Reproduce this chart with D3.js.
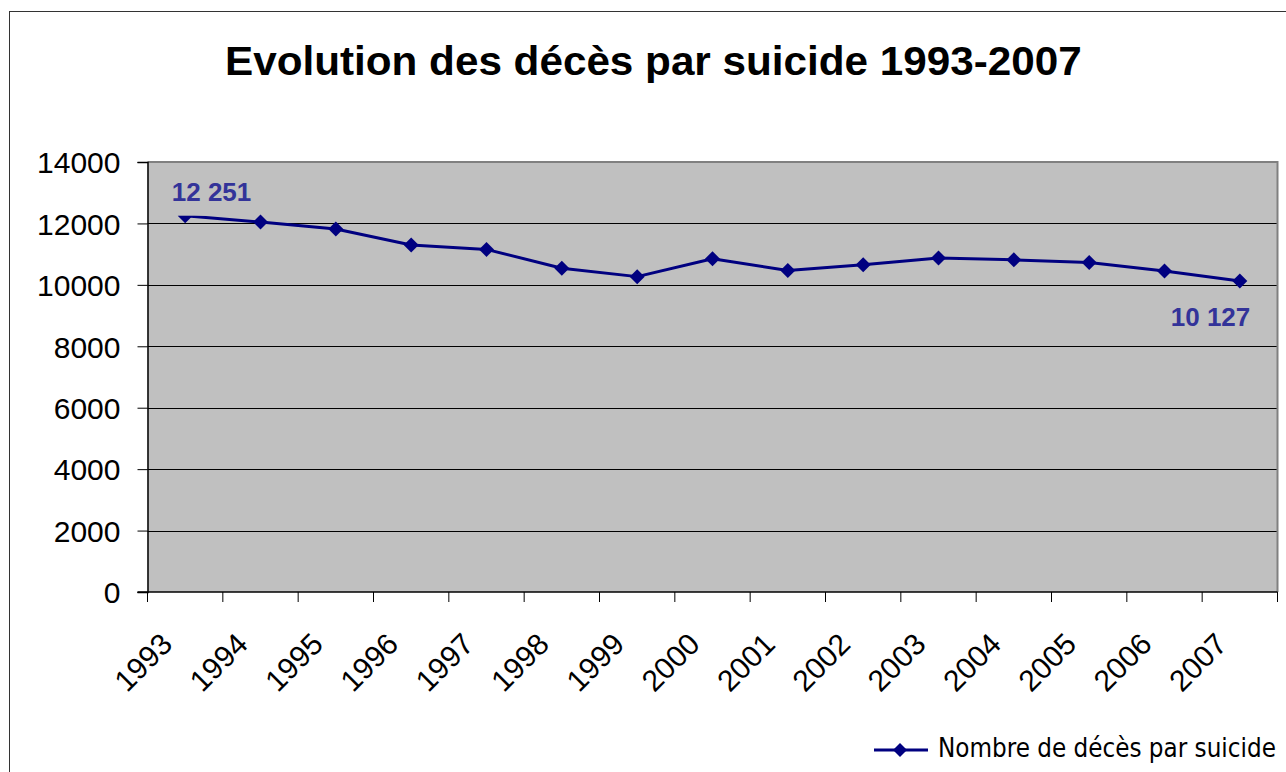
<!DOCTYPE html>
<html>
<head>
<meta charset="utf-8">
<script src="https://cdn.jsdelivr.net/npm/d3@7"></script>
<style>
  html, body { margin: 0; padding: 0; background: #fff; }
  svg { display: block; }
</style>
</head>
<body>
<svg id="chart" width="1286" height="772"></svg>
<script>
const years = ["1993","1994","1995","1996","1997","1998","1999","2000","2001","2002","2003","2004","2005","2006","2007"];
const deaths = [12251, 12045, 11819, 11300, 11155, 10540, 10268, 10850, 10470, 10655, 10874, 10815, 10730, 10450, 10127];
const yTicks = [0, 2000, 4000, 6000, 8000, 10000, 12000, 14000];
const titleText = "Evolution des décès par suicide 1993-2007";
const legendText = "Nombre de décès par suicide";
const labelFirst = "12 251";
const labelLast = "10 127";

const svg = d3.select("#chart");
const W = 1286, H = 772;
const plot = {left: 147.5, right: 1277.5, top: 162, bottom: 592};
const FONT = "Liberation Sans, Arial, sans-serif";

// outer border
svg.append("rect").attr("x", 9.5).attr("y", 11.5).attr("width", W + 10).attr("height", H + 10)
  .attr("fill", "#fff").attr("stroke", "#333").attr("stroke-width", 1);

// helper: horizontally fit a text to a width with a scale transform
function fitText(sel, x0, y0, width) {
  const natural = sel.node().getComputedTextLength();
  const sx = width / natural;
  sel.attr("transform", `translate(${x0},${y0}) scale(${sx},1)`);
}

// title
const title = svg.append("text").attr("x", 0).attr("y", 0)
  .attr("font-family", FONT).attr("font-weight", "bold")
  .attr("font-size", 40).attr("fill", "#000").text(titleText);
fitText(title, 225, 75, 857);

const x = d3.scaleBand().domain(years).range([plot.left, plot.right]).paddingInner(0).paddingOuter(0);
const y = d3.scaleLinear().domain([0, 14000]).range([plot.bottom, plot.top]);

// plot background
svg.append("rect").attr("x", plot.left).attr("y", plot.top)
  .attr("width", plot.right - plot.left).attr("height", plot.bottom - plot.top)
  .attr("fill", "#C0C0C0");

// gridlines
svg.append("g").selectAll("line").data(yTicks.filter(d => d > 0 && d < 14000)).join("line")
  .attr("x1", plot.left).attr("x2", plot.right)
  .attr("y1", d => Math.round(y(d)) + 0.5).attr("y2", d => Math.round(y(d)) + 0.5)
  .attr("stroke", "#000").attr("stroke-width", 1);

// plot border top/right (gray)
svg.append("path")
  .attr("d", `M${plot.left},${plot.top} H${plot.right} V${plot.bottom}`)
  .attr("fill", "none").attr("stroke", "#808080").attr("stroke-width", 2);

// y axis
const yAxis = d3.axisLeft(y).tickValues(yTicks).tickSize(10).tickPadding(17).tickFormat(d3.format("d"));
const gy = svg.append("g").attr("transform", `translate(${plot.left},0)`).call(yAxis);
gy.select(".domain").attr("stroke", "#000").attr("stroke-width", 1.5);
gy.selectAll(".tick line").attr("stroke", "#000");
gy.selectAll(".tick text").attr("font-family", FONT)
  .attr("font-size", 30).attr("fill", "#000").attr("dy", "0.36em");

// x axis
const gx = svg.append("g").attr("transform", `translate(0,${plot.bottom})`);
gx.append("line").attr("x1", plot.left - 10).attr("x2", plot.right).attr("y1", 0).attr("y2", 0)
  .attr("stroke", "#000").attr("stroke-width", 1.5);
const bounds = years.map(d => x(d)).concat([x(years[years.length - 1]) + x.bandwidth()]);
gx.selectAll("line.tk").data(bounds).join("line").attr("class", "tk")
  .attr("x1", d => d).attr("x2", d => d).attr("y1", 0).attr("y2", 10)
  .attr("stroke", "#000").attr("stroke-width", 1);
gx.selectAll("text").data(years).join("text")
  .attr("transform", d => `translate(${x(d) + x.bandwidth() / 2 - 11},${54}) rotate(-45)`)
  .attr("text-anchor", "end")
  .attr("font-family", FONT).attr("font-size", 30).attr("fill", "#000")
  .text(d => d);

// line
const cx = d => x(d) + x.bandwidth() / 2;
const line = d3.line().x((d, i) => cx(years[i])).y(d => y(d));
svg.append("path").datum(deaths).attr("d", line)
  .attr("fill", "none").attr("stroke", "#000080").attr("stroke-width", 3).attr("stroke-linejoin", "round");

function diamondPath(r) { return `M0,${-r}L${r},0L0,${r}L${-r},0Z`; }
svg.append("g").selectAll("path").data(deaths).join("path")
  .attr("transform", (d, i) => `translate(${cx(years[i])},${y(d)})`)
  .attr("d", diamondPath(7.5)).attr("fill", "#000080");

// first label box covers top of first marker
const y0 = y(deaths[0]);
svg.append("rect").attr("x", 168).attr("y", 176).attr("width", 88).attr("height", y0 - 176)
  .attr("fill", "#C0C0C0");
svg.append("text").attr("x", 211.5).attr("y", 201).attr("text-anchor", "middle")
  .attr("font-family", FONT).attr("font-weight", "bold")
  .attr("font-size", 26).attr("fill", "#333399").text(labelFirst);
svg.append("text").attr("x", 1210.5).attr("y", 326).attr("text-anchor", "middle")
  .attr("font-family", FONT).attr("font-weight", "bold")
  .attr("font-size", 26).attr("fill", "#333399").text(labelLast);

// legend
const lg = svg.append("g");
lg.append("line").attr("x1", 874).attr("x2", 928).attr("y1", 750).attr("y2", 750)
  .attr("stroke", "#000080").attr("stroke-width", 3);
lg.append("path").attr("transform", "translate(900,750)").attr("d", diamondPath(7)).attr("fill", "#000080");
const lt = lg.append("text").attr("x", 0).attr("y", 0)
  .attr("font-family", "DejaVu Sans Condensed, Liberation Sans Narrow, Arial, sans-serif")
  .attr("font-size", 26).attr("fill", "#000").text(legendText);
fitText(lt, 938, 757, 338);
</script>
</body>
</html>
